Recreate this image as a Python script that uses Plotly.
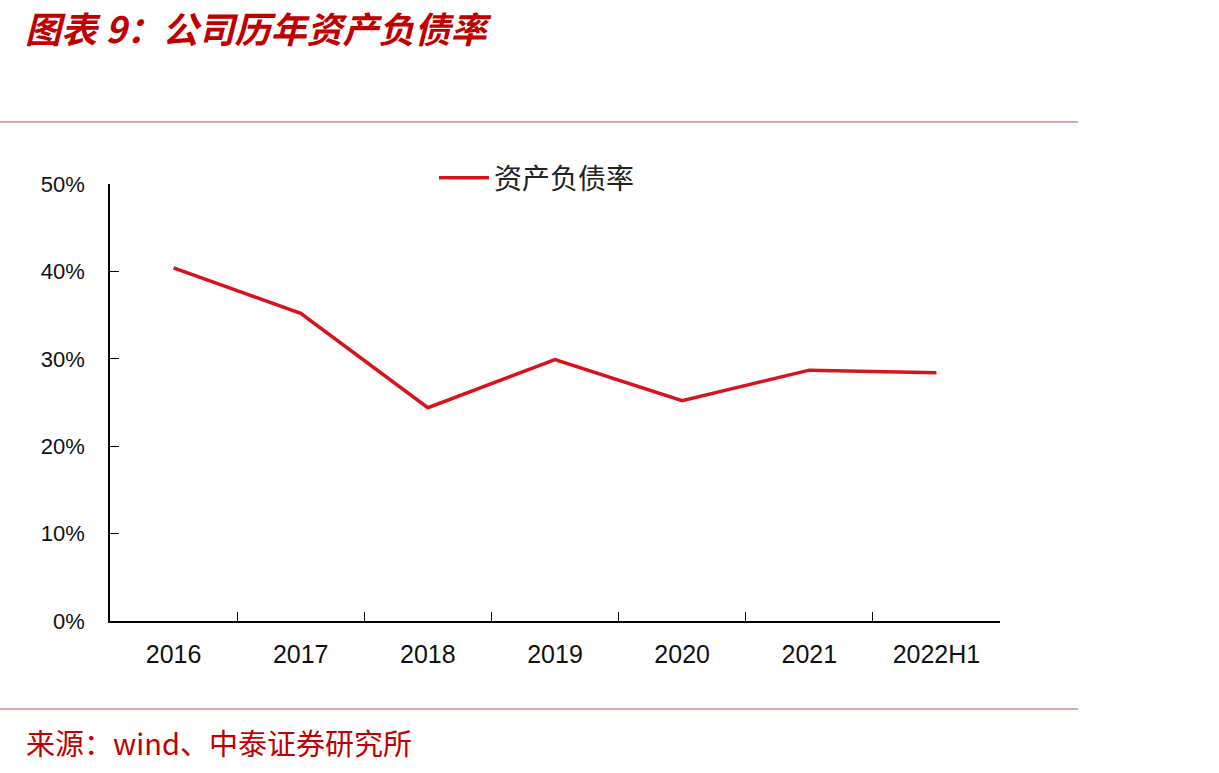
import plotly.graph_objects as go

categories = ["2016", "2017", "2018", "2019", "2020", "2021", "2022H1"]
debt_ratio = [0.404, 0.352, 0.244, 0.299, 0.252, 0.287, 0.284]
y_ticks = [0, 0.1, 0.2, 0.3, 0.4, 0.5]
y_tick_labels = ["0%", "10%", "20%", "30%", "40%", "50%"]

W, H = 1219, 773
L, R, T, B = 110, 219, 184, 152
pw, ph = W - L - R, H - T - B

fig = go.Figure()
fig.add_trace(go.Scatter(
    x=categories, y=debt_ratio, mode="lines", name="资产负债率",
    line=dict(color="#D7141E", width=3.5),
))

fig.update_layout(
    width=W, height=H,
    margin=dict(l=L, r=R, t=T, b=B),
    paper_bgcolor="white", plot_bgcolor="white",
    font=dict(family="Liberation Sans, Arial, sans-serif", color="#000000"),
    showlegend=True,
    legend=dict(
        orientation="h", x=(434 - L) / pw, xanchor="left",
        y=(T + ph - 178) / ph, yanchor="middle",
        font=dict(family="Noto Sans CJK SC", size=28, color="#222222"),
        bgcolor="rgba(0,0,0,0)", itemwidth=50,
    ),
    xaxis=dict(
        type="category", range=[-0.5, 6.5],
        showline=True, linecolor="#000000", linewidth=1.5,
        ticks="inside", tickson="boundaries", ticklen=9, tickcolor="#000000", tickwidth=1,
        showgrid=False, zeroline=False,
        tickfont=dict(family="Liberation Sans Narrow, Liberation Sans, Arial", size=25, color="#111111"),
        ticklabelstandoff=10,
    ),
    yaxis=dict(
        range=[0, 0.5], tickvals=y_ticks, ticktext=y_tick_labels,
        showline=True, linecolor="#000000", linewidth=1.5,
        ticks="inside", ticklen=9, tickcolor="#000000", tickwidth=1,
        showgrid=False, zeroline=False,
        tickfont=dict(family="Liberation Sans, Arial", size=22, color="#111111"),
        ticklabelstandoff=19,
    ),
)

# header / footer rules
fig.add_shape(type="line", xref="paper", yref="paper",
              x0=-L / pw, x1=(1078 - L) / pw,
              y0=(T + ph - 122) / ph, y1=(T + ph - 122) / ph,
              line=dict(color="#C0504D", width=1.2))
fig.add_shape(type="line", xref="paper", yref="paper",
              x0=-L / pw, x1=(1078 - L) / pw,
              y0=(T + ph - 709) / ph, y1=(T + ph - 709) / ph,
              line=dict(color="#C0504D", width=1.2))

fig.add_annotation(
    text="<b><i>图表 9：公司历年资产负债率</i></b>",
    xref="paper", yref="paper", x=(24 - L) / pw, xanchor="left",
    y=(T + ph - 0) / ph, yanchor="top", showarrow=False, borderpad=0,
    font=dict(family="Noto Sans CJK SC", size=36, color="#C00000"),
)
fig.add_annotation(
    text="来源：wind、中泰证券研究所",
    xref="paper", yref="paper", x=(24 - L) / pw, xanchor="left",
    y=(T + ph - 742) / ph, yanchor="middle", showarrow=False,
    font=dict(family="Noto Sans CJK SC", size=29, color="#C00000"),
)

fig.write_html("out.html")
